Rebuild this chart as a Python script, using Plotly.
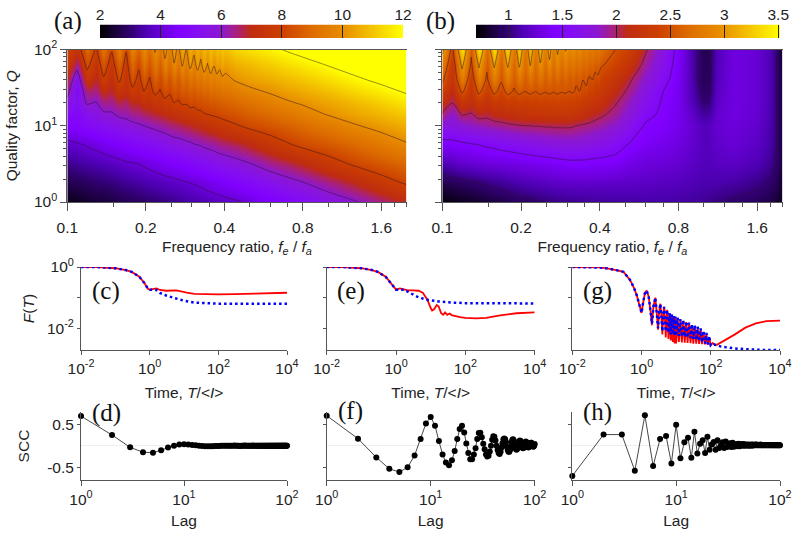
import numpy as np
import plotly.graph_objects as go

# values
q_rows = [1, 1.78, 3.16, 5.62, 10, 14.1, 20, 28.2, 39.8, 63.1, 100]

# panel (a): columns sit on the dark and bright stripes of the fringes
xa = [0.100, 0.109, 0.119, 0.129, 0.138, 0.148, 0.158, 0.168, 0.178, 0.188, 0.197, 0.207, 0.217, 0.227,
      0.237, 0.247, 0.257, 0.266, 0.276, 0.286, 0.296, 0.306, 0.316, 0.325, 0.335, 0.345, 0.355, 0.365,
      0.375, 0.384, 0.394, 0.404, 0.44, 0.5, 0.6, 0.7, 0.8, 1.0, 1.25, 1.6, 2.0]
za_q1 = [2.2, 2.3, 2.4, 2.5, 2.5, 2.6, 2.7, 2.75, 2.8, 2.85, 2.9, 3.0, 3.0, 3.1, 3.1, 3.2, 3.2, 3.3, 3.3, 3.4, 3.4,
         3.45, 3.5, 3.5, 3.55, 3.6, 3.6, 3.65, 3.7, 3.7, 3.75, 3.8, 3.9, 4.1, 4.45, 4.75, 5.0, 5.5, 5.9, 6.45, 6.95]
za_q2 = [2.7, 2.8, 2.9, 3.0, 3.05, 3.1, 3.2, 3.3, 3.35, 3.4, 3.5, 3.55, 3.6, 3.65, 3.7, 3.75, 3.8, 3.85, 3.9, 3.95,
         4.0, 4.05, 4.1, 4.15, 4.2, 4.3, 4.35, 4.4, 4.45, 4.5, 4.55, 4.6, 4.75, 5.0, 5.4, 5.7, 5.95, 6.45, 6.95, 7.6, 8.1]
za_q3 = [3.2, 3.35, 3.45, 3.55, 3.6, 3.7, 3.8, 3.9, 3.95, 4.0, 4.1, 4.2, 4.3, 4.4, 4.5, 4.55, 4.65, 4.7, 4.75, 4.85,
         4.9, 5.0, 5.05, 5.1, 5.15, 5.2, 5.3, 5.35, 5.4, 5.45, 5.5, 5.55, 5.7, 5.95, 6.4, 6.7, 7.0, 7.6, 8.1, 8.55, 8.95]
za_q6 = [3.8, 3.9, 4.05, 4.2, 4.35, 4.5, 4.6, 4.75, 4.85, 4.95, 5.05, 5.15, 5.2, 5.3, 5.4, 5.5, 5.6, 5.65, 5.7, 5.8,
         5.85, 5.95, 6.0, 6.05, 6.15, 6.2, 6.25, 6.3, 6.4, 6.45, 6.5, 6.55, 6.7, 7.0, 7.5, 7.9, 8.2, 8.55, 8.95, 9.45, 9.9]
za_q10 = [4.65, 4.8, 5.0, 5.15, 5.3, 5.4, 5.55, 5.7, 5.8, 5.9, 6.0, 6.1, 6.2, 6.3, 6.4, 6.5, 6.6, 6.65, 6.75, 6.8,
          6.9, 7.0, 7.05, 7.1, 7.2, 7.3, 7.35, 7.45, 7.5, 7.55, 7.65, 7.7, 7.9, 8.2, 8.5, 8.75, 9.0, 9.45, 9.9, 10.3, 10.65]
za_q14 = [5.1, 4.9, 5.4, 5.55, 5.85, 5.9, 6.15, 6.2, 6.4, 6.45, 6.6, 6.7, 6.85, 6.9, 7.05, 7.1, 7.25, 7.3, 7.45, 7.5,
          7.65, 7.67, 7.8, 7.85, 7.95, 8.0, 8.05, 8.1, 8.15, 8.2, 8.25, 8.3, 8.45, 8.7, 9.0, 9.3, 9.6, 10.05, 10.4, 10.75, 11.1]
za_q20 = [5.7, 5.2, 6.1, 5.95, 6.45, 6.4, 6.75, 6.6, 7.0, 6.95, 7.3, 7.2, 7.55, 7.45, 7.8, 7.7, 8.0, 7.9, 8.1, 8.08,
          8.25, 8.2, 8.35, 8.3, 8.45, 8.42, 8.55, 8.53, 8.65, 8.65, 8.75, 8.75, 8.95, 9.2, 9.6, 9.9, 10.1, 10.45, 10.8, 11.2, 11.6]
za_q28 = [6.3, 5.0, 6.6, 6.45, 7.1, 6.8, 7.45, 7.15, 7.8, 7.45, 8.0, 7.7, 8.2, 7.95, 8.35, 8.1, 8.5, 8.3, 8.6, 8.5,
          8.75, 8.6, 8.85, 8.74, 8.95, 8.85, 9.1, 9.0, 9.2, 9.13, 9.3, 9.25, 9.5, 9.8, 10.1, 10.35, 10.55, 10.9, 11.3, 11.7, 12.1]
za_q40 = [6.8, 5.3, 7.45, 6.8, 7.85, 7.1, 8.15, 7.4, 8.35, 7.7, 8.5, 7.9, 8.7, 8.2, 8.85, 8.4, 9.0, 8.55, 9.15, 8.8,
          9.3, 9.0, 9.4, 9.2, 9.55, 9.3, 9.65, 9.45, 9.75, 9.6, 9.85, 9.77, 10.05, 10.3, 10.55, 10.8, 11.0, 11.4, 11.8, 12.2, 12.5]
za_q63 = [7.7, 6.4, 8.3, 7.3, 8.55, 7.5, 8.8, 7.6, 9.0, 8.15, 9.25, 8.45, 9.4, 8.7, 9.8, 9.0, 9.95, 9.2, 10.1, 9.45,
          10.25, 9.65, 10.35, 9.8, 10.45, 9.95, 10.5, 10.05, 10.4, 10.2, 10.5, 10.3, 10.65, 10.85, 11.15, 11.45, 11.65, 12.05, 12.4, 12.8, 13.0]
za_q100 = [8.0, 7.4, 9.0, 7.85, 9.3, 8.1, 9.55, 8.1, 9.8, 8.8, 10.0, 9.05, 10.15, 9.3, 10.3, 9.55, 10.4, 9.75, 10.5, 10.0,
           10.65, 10.2, 10.75, 10.35, 10.8, 10.45, 10.9, 10.6, 11.0, 10.75, 11.1, 10.9, 11.3, 11.5, 11.8, 12.1, 12.35, 12.7, 13.0, 13.0, 13.0]

# panel (b)
xb = [0.100, 0.109, 0.119, 0.129, 0.138, 0.148, 0.158, 0.168, 0.178, 0.188, 0.197, 0.207, 0.217, 0.227,
      0.237, 0.247, 0.257, 0.266, 0.276, 0.286, 0.296, 0.306, 0.316, 0.325, 0.335, 0.345, 0.355, 0.365,
      0.375, 0.384, 0.394, 0.404, 0.46, 0.52, 0.6, 0.7, 0.8, 0.88, 0.95, 1.0, 1.05, 1.12, 1.3, 1.6, 1.8, 1.9, 2.0]
zb_q1 = [0.72, 0.75, 0.78, 0.8, 0.82, 0.84, 0.86, 0.88, 0.9, 0.92, 0.94, 0.95, 0.96, 0.98, 0.99, 1.0, 1.01, 1.02, 1.03, 1.03,
         1.04, 1.04, 1.05, 1.05, 1.05, 1.06, 1.06, 1.06, 1.07, 1.07, 1.07, 1.07, 1.08, 1.09, 1.1, 1.1, 1.09, 1.08, 1.07, 1.06, 1.05, 1.02, 0.97, 0.93, 0.88, 0.83, 0.78]
zb_q2 = [0.9, 0.93, 0.95, 0.98, 1.0, 1.03, 1.05, 1.07, 1.09, 1.11, 1.13, 1.14, 1.15, 1.16, 1.17, 1.18, 1.19, 1.2, 1.2, 1.21,
         1.22, 1.22, 1.22, 1.22, 1.22, 1.22, 1.22, 1.22, 1.22, 1.22, 1.22, 1.22, 1.21, 1.2, 1.2, 1.18, 1.17, 1.15, 1.13, 1.12, 1.12, 1.12, 1.1, 1.04, 0.98, 0.92, 0.82]
zb_q3 = [1.12, 1.17, 1.22, 1.24, 1.26, 1.28, 1.29, 1.3, 1.31, 1.32, 1.33, 1.34, 1.35, 1.36, 1.37, 1.38, 1.39, 1.4, 1.41, 1.42,
         1.43, 1.44, 1.44, 1.44, 1.44, 1.44, 1.44, 1.43, 1.43, 1.42, 1.42, 1.42, 1.4, 1.33, 1.28, 1.26, 1.24, 1.2, 1.18, 1.16, 1.16, 1.18, 1.2, 1.14, 1.06, 0.98, 0.85]
zb_q6 = [1.4, 1.42, 1.45, 1.48, 1.5, 1.53, 1.55, 1.58, 1.6, 1.62, 1.64, 1.66, 1.67, 1.69, 1.7, 1.71, 1.72, 1.73, 1.74, 1.75,
         1.75, 1.75, 1.75, 1.75, 1.74, 1.73, 1.72, 1.71, 1.7, 1.69, 1.68, 1.67, 1.6, 1.48, 1.4, 1.35, 1.3, 1.24, 1.2, 1.17, 1.17, 1.22, 1.25, 1.2, 1.1, 1.0, 0.85]
zb_q10 = [1.75, 1.73, 1.8, 1.84, 1.87, 1.9, 1.92, 1.94, 1.96, 1.98, 1.99, 2.0, 2.0, 2.01, 2.01, 2.02, 2.02, 2.03, 2.03, 2.03,
          2.03, 2.03, 2.02, 2.0, 1.99, 1.98, 1.97, 1.96, 1.94, 1.93, 1.91, 1.9, 1.82, 1.68, 1.47, 1.42, 1.35, 1.26, 1.2, 1.16, 1.17, 1.24, 1.28, 1.22, 1.12, 1.0, 0.85]
zb_q14 = [1.98, 1.82, 2.02, 1.98, 2.08, 2.05, 2.12, 2.13, 2.17, 2.17, 2.2, 2.2, 2.22, 2.22, 2.24, 2.24, 2.25, 2.25, 2.25, 2.25,
          2.25, 2.24, 2.23, 2.21, 2.19, 2.17, 2.15, 2.12, 2.1, 2.08, 2.06, 2.04, 1.93, 1.77, 1.57, 1.45, 1.36, 1.24, 1.13, 1.08, 1.1, 1.23, 1.3, 1.24, 1.13, 1.0, 0.85]
zb_q20 = [2.15, 2.0, 2.25, 2.15, 2.3, 2.2, 2.32, 2.28, 2.35, 2.33, 2.37, 2.35, 2.38, 2.37, 2.39, 2.38, 2.4, 2.39, 2.4, 2.39,
          2.4, 2.38, 2.38, 2.36, 2.35, 2.32, 2.3, 2.27, 2.25, 2.22, 2.2, 2.17, 2.02, 1.85, 1.65, 1.47, 1.36, 1.2, 1.06, 1.0, 1.02, 1.2, 1.3, 1.25, 1.14, 1.0, 0.85]
zb_q28 = [2.35, 2.1, 2.55, 2.25, 2.56, 2.35, 2.56, 2.42, 2.56, 2.48, 2.55, 2.5, 2.54, 2.5, 2.54, 2.51, 2.53, 2.51, 2.53, 2.51,
          2.52, 2.5, 2.52, 2.48, 2.5, 2.43, 2.45, 2.38, 2.4, 2.33, 2.33, 2.28, 2.12, 1.95, 1.72, 1.5, 1.36, 1.18, 1.03, 0.95, 0.98, 1.18, 1.3, 1.25, 1.14, 1.0, 0.85]
zb_q40 = [2.55, 2.2, 2.8, 2.3, 2.8, 2.45, 2.8, 2.52, 2.78, 2.55, 2.75, 2.56, 2.72, 2.57, 2.7, 2.57, 2.67, 2.56, 2.65, 2.55,
          2.63, 2.54, 2.6, 2.52, 2.58, 2.5, 2.55, 2.46, 2.5, 2.42, 2.45, 2.38, 2.22, 2.03, 1.8, 1.58, 1.38, 1.18, 1.0, 0.93, 0.96, 1.16, 1.3, 1.25, 1.14, 1.0, 0.85]
zb_q63 = [2.8, 2.25, 3.08, 2.45, 3.05, 2.55, 3.05, 2.6, 3.05, 2.62, 3.05, 2.65, 3.02, 2.65, 2.98, 2.67, 2.95, 2.68, 2.9, 2.68,
          2.85, 2.7, 2.78, 2.68, 2.74, 2.65, 2.7, 2.62, 2.66, 2.58, 2.6, 2.53, 2.4, 2.22, 1.92, 1.66, 1.4, 1.18, 1.0, 0.92, 0.95, 1.15, 1.3, 1.25, 1.14, 1.0, 0.82]
zb_q100 = [3.1, 2.4, 3.4, 2.55, 3.4, 2.65, 3.4, 2.7, 3.33, 2.75, 3.28, 2.75, 3.2, 2.8, 3.15, 2.82, 3.1, 2.82, 3.05, 2.85,
           3.02, 2.87, 2.98, 2.83, 2.93, 2.79, 2.88, 2.76, 2.83, 2.73, 2.78, 2.7, 2.5, 2.38, 2.03, 1.72, 1.42, 1.18, 1.0, 0.9, 0.93, 1.15, 1.3, 1.25, 1.14, 1.0, 0.8]

cb_a_ticks = [2, 4, 6, 8, 10, 12]
cb_b_ticks = [1, 1.5, 2, 2.5, 3, 3.5]
freq_ticks = [0.1, 0.2, 0.4, 0.8, 1.6]
freq_minor = [0.15, 0.25, 0.3, 0.35, 0.5, 0.6, 0.7, 1, 1.2, 1.4, 1.8, 2]
q_ticks = [1, 10, 100]
q_minor = [2, 3, 4, 5, 6, 7, 8, 9, 20, 30, 40, 50, 60, 70, 80, 90]

# F(T) curves, log10 of F
t_c_red = [0.01, 0.03, 0.1, 0.2, 0.3, 0.5, 0.7, 0.9, 1.0, 1.3, 1.6, 2, 3, 6, 8, 12, 20, 50, 100, 300, 1000, 3000, 10000]
f_c_red = [0, -0.003, -0.04, -0.1, -0.16, -0.32, -0.52, -0.72, -0.74, -0.71, -0.70, -0.75, -0.775, -0.765, -0.8, -0.84, -0.875, -0.896, -0.896, -0.885, -0.863, -0.85, -0.84]
t_c_blue = [0.01, 0.03, 0.1, 0.2, 0.3, 0.5, 0.7, 0.9, 1.0, 1.5, 2, 3, 5.5, 10, 20, 50, 100, 1000, 10000]
f_c_blue = [0, -0.003, -0.04, -0.1, -0.16, -0.32, -0.52, -0.72, -0.74, -0.74, -0.85, -0.93, -1.02, -1.1, -1.16, -1.19, -1.2, -1.2, -1.2]

t_e_red = [0.01, 0.03, 0.1, 0.2, 0.3, 0.5, 0.7, 0.9, 1.0, 1.3, 1.7, 2.2, 3, 4.5, 6, 8, 10, 11, 12.5, 15, 17, 20, 23, 26, 30, 35, 40, 50, 70, 100, 200, 400, 1000, 3000, 10000]
f_e_red = [0, -0.003, -0.04, -0.1, -0.16, -0.32, -0.52, -0.70, -0.74, -0.70, -0.73, -0.765, -0.765, -0.775, -0.85, -1.07, -1.34, -1.42, -1.38, -1.24, -1.29, -1.51, -1.56, -1.48, -1.56, -1.52, -1.57, -1.6, -1.64, -1.66, -1.68, -1.66, -1.58, -1.51, -1.48]
t_e_blue = [0.01, 0.03, 0.1, 0.2, 0.3, 0.5, 0.7, 0.9, 1.0, 1.7, 3, 4.5, 8, 17, 40, 100, 10000]
f_e_blue = [0, -0.003, -0.04, -0.1, -0.16, -0.32, -0.52, -0.70, -0.74, -0.74, -0.885, -0.995, -1.07, -1.126, -1.16, -1.18, -1.19]

t_g_red = [0.01, 0.03, 0.06, 0.1, 0.15, 0.2, 0.3, 0.46, 0.6, 0.72, 0.85, 1, 1.1, 1.25, 1.4, 1.6, 1.8, 2, 2.2, 2.5, 2.75, 3, 3.2, 3.5, 3.75, 4, 4.2, 4.5, 4.8, 5,
           5.5, 6, 6.5, 7, 7.5, 8, 8.5, 9, 9.5, 10, 11, 12, 13.3, 14.6, 16, 17.7, 19.5, 21.4, 23.6, 26, 28.5, 31.4, 34.5, 38, 42, 46, 51, 56, 62, 68, 75, 82, 90, 100,
           115, 130, 150, 200, 300, 500, 1000, 2000, 4000, 10000]
f_g_red = [0, -0.003, -0.015, -0.045, -0.075, -0.11, -0.16, -0.415, -0.67, -0.91, -1.2, -1.5, -1.2, -0.85, -0.77, -0.95, -1.4, -1.9, -1.3, -1.0, -1.5, -2.05, -1.5, -1.2, -1.6, -2.2, -1.6, -1.3, -1.8, -2.3,
           -1.4, -2.35, -1.5, -2.4, -1.55, -2.45, -1.6, -2.5, -1.65, -2.5, -1.68, -2.45, -1.72, -2.46, -1.76, -2.47, -1.8, -2.48, -1.85, -2.49, -1.9, -2.5, -1.95, -2.5, -2.0, -2.51, -2.05, -2.52, -2.12, -2.53, -2.2, -2.54, -2.3, -2.55,
           -2.48, -2.55, -2.54, -2.46, -2.35, -2.2, -1.98, -1.84, -1.77, -1.75]
t_g_blue = [0.01, 0.03, 0.06, 0.1, 0.15, 0.2, 0.3, 0.46, 0.6, 0.72, 0.85, 1, 1.1, 1.25, 1.4, 1.6, 1.8, 2, 2.2, 2.5, 2.75, 3, 3.2, 3.5, 3.75, 4, 4.2, 4.5, 4.8, 5,
            5.5, 6, 6.5, 7, 7.5, 8, 8.5, 9, 9.5, 10, 11, 12, 13.3, 14.6, 16, 17.7, 19.5, 21.4, 23.6, 26, 28.5, 31.4, 34.5, 38, 42, 46, 51, 56, 62, 68, 75, 82, 90, 100,
            130, 200, 500, 1000, 2000, 4000, 10000]
f_g_blue = [0, -0.003, -0.015, -0.045, -0.075, -0.11, -0.16, -0.415, -0.67, -0.91, -1.2, -1.5, -1.2, -0.85, -0.77, -0.95, -1.4, -1.85, -1.3, -1.0, -1.5, -2.0, -1.5, -1.2, -1.6, -2.1, -1.6, -1.3, -1.8, -2.1,
            -1.4, -2.15, -1.5, -2.2, -1.55, -2.2, -1.6, -2.25, -1.62, -2.25, -1.65, -2.25, -1.7, -2.28, -1.72, -2.28, -1.78, -2.3, -1.82, -2.32, -1.86, -2.35, -1.9, -2.38, -1.95, -2.42, -2.0, -2.46, -2.08, -2.5, -2.15, -2.52, -2.25, -2.57,
            -2.53, -2.6, -2.66, -2.69, -2.7, -2.71, -2.71]

# serial correlation coefficients, lags 1 to 100
lags = list(range(1, 101))
scc_d = [0.69, 0.25, -0.035, -0.15, -0.16, -0.105, -0.04, 0.0, 0.03, 0.035, 0.03, 0.02, 0.01, 0.0, -0.005, -0.01, -0.01, -0.01, -0.01, -0.005,
         -0.005, -0.005, 0, 0, 0, 0, 0, 0, 0, 0, 0.005, 0, 0, 0, -0.005, 0, 0, 0, 0.005, 0,
         0, 0, 0, 0, 0, 0, 0.005, 0, 0, 0, 0, 0, 0, 0, 0, 0, 0, 0, 0, 0,
         0, 0, 0, 0, 0, 0, 0, 0, 0, 0, 0, 0, 0, 0, 0, 0, 0, 0, 0, 0,
         0, 0, 0, 0, 0, 0, 0, 0, 0, 0, 0, 0, 0, 0, 0, 0, 0, 0, 0, 0]
scc_f = [0.70, 0.165, -0.27, -0.535, -0.61, -0.5, -0.225, 0.155, 0.52, 0.67, 0.465, 0.11, -0.2, -0.39, -0.455, -0.335, -0.12, 0.155, 0.39, 0.465,
         0.31, 0.055, -0.165, -0.31, -0.31, -0.2, -0.055, 0.155, 0.295, 0.3, 0.2, 0.05, -0.08, -0.2, -0.25, -0.23, -0.13, 0.0, 0.14, 0.22,
         0.21, 0.12, 0.0, -0.1, -0.17, -0.19, -0.14, -0.04, 0.06, 0.15, 0.17, 0.15, 0.08, -0.02, -0.1, -0.14, -0.14, -0.09, -0.02, 0.09,
         0.14, 0.15, 0.12, 0.05, -0.02, -0.08, -0.09, -0.07, -0.02, 0.05, 0.1, 0.12, 0.11, 0.06, 0.01, -0.04, -0.06, -0.05, -0.01, 0.04,
         0.08, 0.1, 0.09, 0.05, 0.01, -0.03, -0.04, -0.03, 0.0, 0.04, 0.06, 0.07, 0.07, 0.04, 0.01, -0.01, -0.02, -0.01, 0.01, 0.04]
scc_h = [-0.70, 0.26, 0.26, -0.58, 0.71, -0.47, 0.155, 0.23, -0.41, 0.49, -0.29, 0.08, 0.185, -0.28, 0.325, -0.18, 0.05, 0.13, -0.165, 0.21,
         -0.09, 0.03, 0.09, -0.09, 0.13, -0.05, 0.01, 0.08, -0.05, 0.1, -0.03, 0.01, 0.06, -0.03, 0.07, -0.02, 0.01, 0.04, -0.01, 0.05,
         -0.01, 0.01, 0.04, 0, 0.04, 0, 0.01, 0.03, 0, 0.03, 0, 0.01, 0.03, 0, 0.03, 0.01, 0.01, 0.03, 0.01, 0.03,
         0.01, 0.01, 0.02, 0.01, 0.03, 0.01, 0.01, 0.02, 0.01, 0.02, 0.01, 0.01, 0.02, 0.01, 0.02, 0.01, 0.01, 0.02, 0.01, 0.02,
         0.01, 0.01, 0.02, 0.01, 0.02, 0.01, 0.01, 0.02, 0.01, 0.02, 0.01, 0.01, 0.02, 0.01, 0.02, 0.01, 0.01, 0.02, 0.01, 0.01]

time_ticks = [0.01, 1, 100, 10000]
time_text = ["10<sup>-2</sup>", "10<sup>0</sup>", "10<sup>2</sup>", "10<sup>4</sup>"]
f_ticks = [1, 0.1, 0.01]
f_text = ["10<sup>0</sup>", "", "10<sup>-2</sup>"]
lag_ticks = [1, 10, 100]
lag_text = ["10<sup>0</sup>", "10<sup>1</sup>", "10<sup>2</sup>"]
scc_ticks = [0.5, -0.5]
scc_text = ["0.5", "-0.5"]

W, H = 800, 539
SANS = "Liberation Sans"
SERIF = "Liberation Serif"
AXIS_GREY = "#555555"
TEXT = "#222222"

inferno_like = [
    [0.0, "#000000"], [0.1, "#30006e"], [0.15, "#4c00b0"], [0.2, "#6a00d8"], [0.26, "#8000ff"], [0.33, "#8410f0"],
    [0.4, "#8c18d0"], [0.45, "#a82080"], [0.5, "#c02c10"], [0.6, "#cc4000"], [0.7, "#dd6c00"],
    [0.8, "#e88c00"], [0.9, "#f4c400"], [1.0, "#ffff00"],
]

fig = go.Figure()


def px_domain(left, right):
    return [left / W, right / W]


def py_domain(top, bottom):
    return [(H - bottom) / H, (H - top) / H]


def base_axis(**kw):
    ax = dict(
        showgrid=False, zeroline=False, showline=True, linecolor=AXIS_GREY, linewidth=1,
        ticks="outside", ticklen=5, tickwidth=1, tickcolor=AXIS_GREY,
        tickfont=dict(family=SANS, size=15.5, color=TEXT),
    )
    ax.update(kw)
    return ax


def title(text, standoff):
    return dict(text=text, font=dict(family=SANS, size=15.5, color=TEXT), standoff=standoff)


def add_map(n, x, z, zmin, zmax, levels, left, right, show_y_labels):
    fig.add_trace(go.Heatmap(
        x=x, y=q_rows, z=z, zmin=zmin, zmax=zmax, zsmooth="best", colorscale=inferno_like, showscale=False,
        xaxis=f"x{n}", yaxis=f"y{n}",
    ))
    fig.add_trace(go.Contour(
        x=x, y=q_rows, z=z, showscale=False, xaxis=f"x{n}", yaxis=f"y{n}", hoverinfo="skip",
        contours=dict(coloring="none", start=levels[0], end=levels[1], size=levels[2]),
        line=dict(color="rgba(40,20,40,0.6)", width=0.8, smoothing=0.6),
    ))
    fig.update_layout(**{
        f"xaxis{n}": base_axis(
            domain=px_domain(left, right), anchor=f"y{n}", type="log", range=[-1, np.log10(2.0)],
            tickmode="array", tickvals=freq_ticks, ticktext=[str(v) for v in freq_ticks], mirror=True, ticklen=8,
            ticklabelstandoff=3,
            minor=dict(tickmode="array", tickvals=freq_minor, ticks="outside", ticklen=4, tickcolor=AXIS_GREY),
            title=title("Frequency ratio, <i>f</i><sub><i>e</i></sub> / <i>f</i><sub><i>a</i></sub>", 6),
        ),
        f"yaxis{n}": base_axis(
            domain=py_domain(49.5, 202), anchor=f"x{n}", type="log", range=[0, 2], ticklen=6,
            tickmode="array", tickvals=q_ticks, ticktext=["10<sup>0</sup>", "10<sup>1</sup>", "10<sup>2</sup>"],
            showticklabels=show_y_labels,
            minor=dict(tickmode="array", tickvals=q_minor, ticks="outside", ticklen=3, tickcolor=AXIS_GREY),
            title=title("Quality factor, <i>Q</i>", 12) if show_y_labels else None,
        ),
    })


def add_scale_bar(n, zmin, zmax, ticks, left, right):
    # the colour ramp of a map, drawn as its own little axis
    ramp = np.linspace(zmin, zmax, 256)
    fig.add_trace(go.Heatmap(
        x=ramp, y=[0], z=[ramp], zmin=zmin, zmax=zmax, colorscale=inferno_like, showscale=False,
        xaxis=f"x{n}", yaxis=f"y{n}", hoverinfo="skip",
    ))
    fig.update_layout(**{
        f"xaxis{n}": base_axis(
            domain=px_domain(left, right), anchor=f"y{n}", side="top", range=[zmin, zmax], showline=False,
            tickmode="array", tickvals=ticks, ticktext=[str(v) for v in ticks],
            ticks="inside", ticklen=13.5, tickcolor="#222222",
        ),
        f"yaxis{n}": dict(domain=py_domain(24.5, 38), anchor=f"x{n}", range=[-0.5, 0.5], visible=False),
    })


def add_decay(n, t_red, f_red, t_blue, f_blue, left, right, show_y_labels):
    fig.add_trace(go.Scatter(x=t_red, y=np.power(10.0, f_red), mode="lines", xaxis=f"x{n}", yaxis=f"y{n}",
                             line=dict(color="#ff0000", width=1.8), cliponaxis=False, showlegend=False))
    fig.add_trace(go.Scatter(x=t_blue, y=np.power(10.0, f_blue), mode="lines", xaxis=f"x{n}", yaxis=f"y{n}",
                             line=dict(color="#0000ff", width=2.5, dash="2.5px,3px"), cliponaxis=False, showlegend=False))
    fig.update_layout(**{
        f"xaxis{n}": base_axis(
            domain=px_domain(left, right), anchor=f"y{n}", type="log", range=[-2, 4], ticklen=4,
            tickmode="array", tickvals=time_ticks, ticktext=time_text,
            title=title("Time, <i>T</i>/&lt;<i>I</i>&gt;", 11),
        ),
        f"yaxis{n}": base_axis(
            domain=py_domain(267, 350), anchor=f"x{n}", type="log", range=[-2.71, 0],
            tickmode="array", tickvals=f_ticks, ticktext=f_text, ticklen=3, showticklabels=show_y_labels,
            title=title("<i>F</i>(<i>T</i>)", 8) if show_y_labels else None,
        ),
    })


def add_scc(n, values, left, right, show_y_labels):
    fig.add_trace(go.Scatter(x=lags, y=values, mode="lines+markers", xaxis=f"x{n}", yaxis=f"y{n}",
                             line=dict(color="#333333", width=0.9), marker=dict(color="#000000", size=6),
                             cliponaxis=False, showlegend=False))
    fig.update_layout(**{
        f"xaxis{n}": base_axis(
            domain=px_domain(left, right), anchor=f"y{n}", type="log", range=[0, 2],
            tickmode="array", tickvals=lag_ticks, ticktext=lag_text,
            title=title("Lag", 8),
        ),
        f"yaxis{n}": base_axis(
            domain=py_domain(412, 480), anchor=f"x{n}", range=[-0.795, 0.785],
            tickmode="array", tickvals=scc_ticks, ticktext=scc_text, ticklen=3, showticklabels=show_y_labels,
            zeroline=True, zerolinecolor="#eeeeee", zerolinewidth=1,
            title=title("SCC", 13) if show_y_labels else None,
        ),
    })


za = [za_q1, za_q2, za_q3, za_q6, za_q10, za_q14, za_q20, za_q28, za_q40, za_q63, za_q100]
zb = [zb_q1, zb_q2, zb_q3, zb_q6, zb_q10, zb_q14, zb_q20, zb_q28, zb_q40, zb_q63, zb_q100]

add_map(1, xa, za, 2, 12, (4, 12, 2), 67.3, 406.5, True)
add_map(2, xb, zb, 0.7, 3.516, (1, 3, 0.5), 442.3, 782.5, False)

add_decay(3, t_c_red, f_c_red, t_c_blue, f_c_blue, 81, 287, True)
add_decay(4, t_e_red, f_e_red, t_e_blue, f_e_blue, 326.7, 534.7, False)
add_decay(5, t_g_red, f_g_red, t_g_blue, f_g_blue, 572.3, 780, False)
add_scc(6, scc_d, 81, 287, True)
add_scc(7, scc_f, 326.7, 534.7, False)
add_scc(8, scc_h, 572.3, 780, False)

add_scale_bar(9, 2, 12, cb_a_ticks, 100, 403)
add_scale_bar(10, 0.7, 3.516, cb_b_ticks, 476, 780)

# panel letters
panel_labels = ["(a)", "(b)", "(c)", "(d)", "(e)", "(f)", "(g)", "(h)"]
panel_px = [67.5, 440, 105.5, 106, 351, 350, 597, 597]
panel_py = [21, 21, 291, 413, 291, 411, 291, 412]
for label, px, py in zip(panel_labels, panel_px, panel_py):
    fig.add_annotation(text=label, x=px / W, y=(H - py) / H, xref="paper", yref="paper", showarrow=False,
                       xanchor="center", yanchor="middle", font=dict(family=SERIF, size=25, color="#111111"))

fig.update_layout(width=W, height=H, margin=dict(l=0, r=0, t=0, b=0, autoexpand=False), paper_bgcolor="white",
                  plot_bgcolor="white", showlegend=False)

fig.write_html("out.html", config={"displayModeBar": False}, post_script="document.body.style.margin='0';")
